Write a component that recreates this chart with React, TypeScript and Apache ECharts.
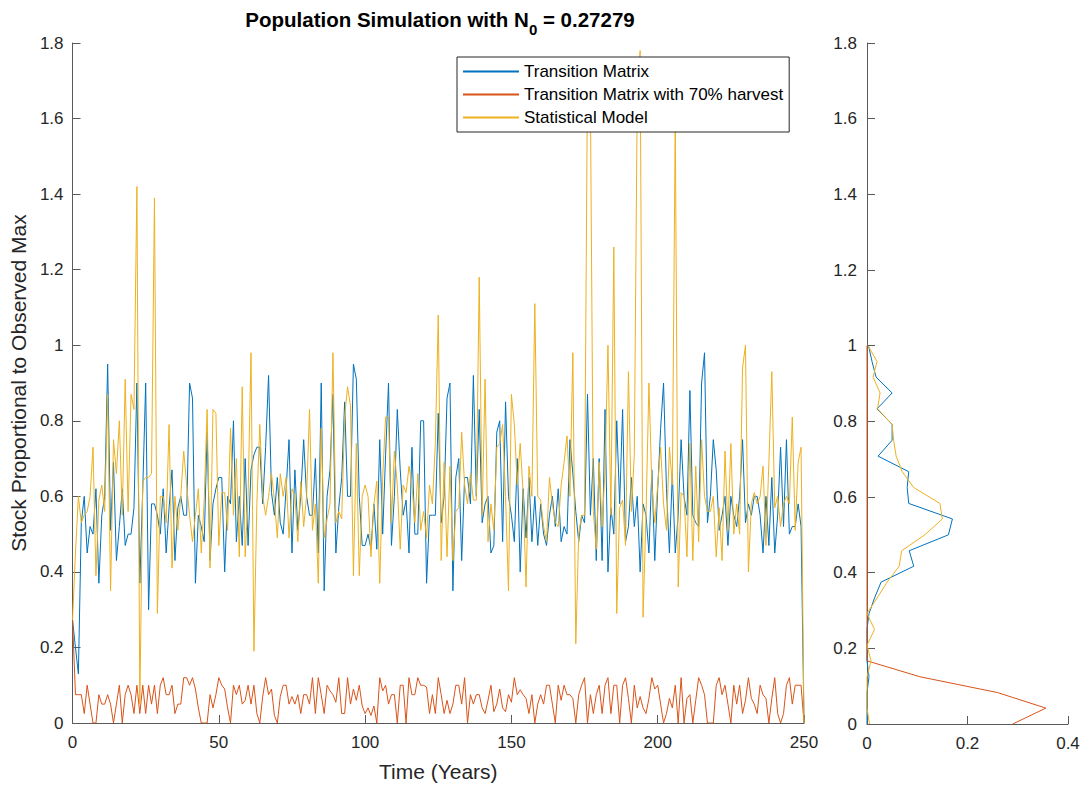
import React, { useEffect, useRef } from "react";
import * as echarts from "echarts";

const FONT = '"Liberation Sans", Arial, Helvetica, sans-serif';
const TITLE_MAIN = "Population Simulation with N";
const TITLE_SUB = "0";
const TITLE_END = " = 0.27279";
const X_NAME = "Time (Years)";
const Y_NAME = "Stock Proportional to Observed Max";
const SERIES_NAMES = ["Transition Matrix", "Transition Matrix with 70% harvest", "Statistical Model"];
const COLORS = ["#0072BD", "#D95319", "#EDB120"];

// Transition Matrix (t = 0..250)
const transitionMatrix = [
  0.273, 0.20, 0.13, 0.53, 0.60, 0.45, 0.52, 0.50, 0.62, 0.37,
  0.55, 0.60, 0.95, 0.51, 0.69, 0.43, 0.52, 0.62, 0.47, 0.50,
  0.50, 0.57, 0.90, 0.37, 0.62, 0.90, 0.30, 0.58, 0.58, 0.55,
  0.50, 0.62, 0.45, 0.57, 0.67, 0.43, 0.57, 0.60, 0.55, 0.55,
  0.90, 0.86, 0.37, 0.55, 0.52, 0.48, 0.77, 0.43, 0.58, 0.62,
  0.65, 0.65, 0.40, 0.60, 0.58, 0.80, 0.48, 0.60, 0.47, 0.70,
  0.47, 0.67, 0.71, 0.73, 0.73, 0.58, 0.73, 0.92, 0.61, 0.55,
  0.65, 0.53, 0.50, 0.62, 0.75, 0.45, 0.67, 0.51, 0.60, 0.75,
  0.60, 0.55, 0.55, 0.70, 0.45, 0.90, 0.35, 0.60, 0.67, 0.87,
  0.45, 0.57, 0.65, 0.85, 0.60, 0.60, 0.95, 0.91, 0.60, 0.47,
  0.47, 0.50, 0.46, 0.58, 0.46, 0.75, 0.50, 0.71, 0.90, 0.47,
  0.60, 0.83, 0.67, 0.55, 0.59, 0.45, 0.73, 0.50, 0.50, 0.80,
  0.80, 0.37, 0.55, 0.55, 0.55, 0.82, 0.53, 0.60, 0.86, 0.90,
  0.35, 0.65, 0.70, 0.43, 0.65, 0.65, 0.58, 0.92, 0.60, 0.83,
  0.53, 0.58, 0.60, 0.45, 0.47, 0.77, 0.80, 0.48, 0.85, 0.60,
  0.55, 0.48, 0.70, 0.40, 0.62, 0.49, 0.65, 0.48, 0.60, 0.47,
  0.58, 0.50, 0.47, 0.55, 0.60, 0.52, 0.62, 0.48, 0.52, 0.50,
  0.75, 0.66, 0.56, 0.48, 0.55, 0.53, 0.87, 0.55, 0.70, 0.43,
  0.70, 0.43, 0.83, 0.40, 0.57, 0.50, 0.80, 0.58, 0.83, 0.48,
  0.52, 0.65, 0.52, 0.60, 0.40, 0.58, 0.55, 0.45, 0.67, 0.43,
  0.62, 0.78, 0.90, 0.62, 0.45, 0.66, 0.45, 0.55, 0.75, 0.60,
  0.55, 0.88, 0.55, 0.53, 0.52, 0.90, 0.98, 0.53, 0.60, 0.75,
  0.67, 0.51, 0.55, 0.60, 0.47, 0.60, 0.55, 0.52, 0.60, 0.75,
  0.53, 0.58, 0.55, 0.60, 0.60, 0.55, 0.45, 0.60, 0.47, 0.65,
  0.45, 0.55, 0.73, 0.52, 0.75, 0.50, 0.52, 0.52, 0.58, 0.52,
  0.0,
];

// Transition Matrix with 70% harvest (t = 0..250)
const harvest70 = [
  0.273, 0.075, 0.075, 0.075, 0.025, 0.1, 0.05, 0.0, 0.0, 0.075,
  0.05, 0.05, 0.075, 0.05, 0.0, 0.05, 0.1, 0.0, 0.075, 0.1,
  0.075, 0.025, 0.1, 0.025, 0.1, 0.025, 0.1, 0.05, 0.1, 0.025,
  0.1, 0.12, 0.075, 0.075, 0.1, 0.025, 0.05, 0.05, 0.12, 0.12,
  0.1, 0.12, 0.09,
  0.04, 0.0, 0.0, 0.0, 0.075, 0.04, 0.075, 0.12, 0.1, 0.09,
  0.04, 0.0, 0.1, 0.075, 0.1, 0.05, 0.06, 0.1, 0.05, 0.1,
  0.025, 0.0, 0.07, 0.12, 0.075, 0.09, 0.02, 0.0, 0.07, 0.1,
  0.1, 0.05, 0.07, 0.05, 0.075, 0.025, 0.075, 0.075, 0.05, 0.12,
  0.025, 0.12,
  0.075, 0.025, 0.1, 0.085, 0.075, 0.055, 0.12, 0.025, 0.025, 0.12,
  0.05, 0.09, 0.06, 0.1, 0.045, 0.025, 0.04, 0.02, 0.045, 0.0,
  0.12, 0.085, 0.1, 0.05, 0.075, 0.075, 0.0, 0.1, 0.1, 0.0,
  0.12, 0.075, 0.075, 0.12, 0.1, 0.1, 0.095, 0.025, 0.075, 0.025,
  0.12, 0.075, 0.025, 0.06, 0.025, 0.05, 0.1, 0.1, 0.05, 0.12,
  0.0, 0.075, 0.05, 0.075, 0.075, 0.04, 0.025, 0.06, 0.1, 0.03,
  0.05, 0.09, 0.04, 0.03, 0.075, 0.055, 0.12, 0.075, 0.088, 0.075,
  0.065, 0.025, 0.075, 0.0, 0.05, 0.075, 0.05, 0.1, 0.1, 0.05,
  0.0, 0.1, 0.06, 0.1, 0.075,
  0.075, 0.065, 0.0, 0.075, 0.1, 0.12, 0.0, 0.075, 0.025, 0.075,
  0.1, 0.025, 0.1, 0.12, 0.025, 0.1, 0.1, 0.0, 0.1, 0.12,
  0.065, 0.0, 0.1, 0.04, 0.07, 0.04, 0.025, 0.065, 0.12, 0.09,
  0.1, 0.05, 0.0, 0.025, 0.065, 0.04, 0.1, 0.0, 0.12, 0.0,
  0.065, 0.075,
  0.0, 0.06, 0.12, 0.1, 0.075, 0.0, 0.0, 0.0, 0.1, 0.12,
  0.075, 0.1, 0.05, 0.0, 0.1, 0.05, 0.1, 0.025, 0.06, 0.12,
  0.065, 0.05, 0.025, 0.1, 0.075, 0.065, 0.0, 0.065, 0.12, 0.025,
  0.0, 0.025, 0.1, 0.12, 0.05, 0.1, 0.1, 0.1, 0.0,
];

// Statistical Model (t = 0..250)
const statisticalModel = [
  0.273, 0.45, 0.60, 0.53, 0.55, 0.56, 0.60, 0.73, 0.39, 0.59,
  0.63, 0.56, 0.87, 0.35, 0.75, 0.66, 0.80, 0.55, 0.91, 0.56,
  0.87, 0.83, 1.42, 0.05, 0.64, 0.65, 0.65, 0.66, 1.39, 0.29,
  0.60, 0.60, 0.53, 0.79, 0.41, 0.60, 0.51, 0.60, 0.72, 0.63,
  0.55, 0.48, 0.55, 0.62, 0.45, 0.59, 0.83, 0.41, 0.83, 0.82,
  0.47, 0.61, 0.61, 0.51, 0.78, 0.55, 0.70, 0.44, 0.89, 0.44,
  0.60, 0.98, 0.19, 0.58, 0.79, 0.60, 0.55, 0.60, 0.66, 0.59,
  0.49, 0.66, 0.60, 0.65, 0.49, 0.62, 0.60, 0.48, 0.64, 0.52,
  0.60, 0.83, 0.51, 0.58, 0.37, 0.78, 0.49, 0.54, 0.58, 0.98,
  0.53, 0.56, 0.54, 0.81, 0.89, 0.84, 0.39, 0.74, 0.39, 0.60,
  0.63, 0.60, 0.44, 0.58, 0.64, 0.37, 0.65, 0.81, 0.81, 0.53,
  0.72, 0.63, 0.46, 0.63, 0.61, 0.68, 0.63, 0.53, 0.66, 0.51,
  0.56, 0.49, 0.63, 0.58, 0.74, 1.08, 0.43, 0.69, 0.44, 0.68,
  0.43, 0.56, 0.57, 0.77, 0.63, 0.58, 0.66, 0.59, 0.59, 1.18,
  0.55, 0.91, 0.48, 0.58, 0.51, 0.73, 0.74, 0.79, 0.60, 0.35,
  0.87, 0.79, 0.63, 0.74, 0.61, 0.36, 0.68, 0.60, 1.11, 0.60,
  0.59, 0.52, 0.48, 0.65, 0.58, 0.53, 0.52, 0.63, 0.69, 0.76,
  0.60, 0.98, 0.21, 0.50, 0.55, 0.55, 1.72, 1.65, 0.56, 0.46,
  0.69, 0.52, 0.67, 1.00, 0.55, 1.26, 0.29, 0.57, 0.59, 0.47,
  0.93, 0.56, 0.71, 1.65, 1.78, 0.28, 0.55, 0.90, 0.63, 0.53,
  0.63, 0.73, 0.58, 0.51, 0.73, 0.63, 1.60, 0.36, 0.61, 0.60,
  0.44, 0.74, 0.43, 0.68, 0.48, 0.75, 0.60, 0.56, 0.56, 0.60,
  0.44, 0.57, 0.43, 0.72, 0.51, 0.74, 0.50, 0.58, 0.50, 0.94,
  1.00, 0.40, 0.58, 0.61, 0.58, 0.60, 0.68, 0.47, 0.69, 0.93,
  0.57, 0.60, 0.52, 0.58, 0.60, 0.58, 0.81, 0.51, 0.69, 0.73,
  0.0,
];

// Histogram (right panel): bin centres on the stock axis and probabilities
const histBins = [
  0, 0.042, 0.083, 0.125, 0.167, 0.208, 0.25, 0.292, 0.333, 0.375,
  0.417, 0.458, 0.5, 0.542, 0.583, 0.625, 0.667, 0.708, 0.75, 0.792,
  0.833, 0.875, 0.917, 0.958, 1.0,
];
const histTransition = [
  0, 0, 0, 0.004, 0, 0, 0, 0.004, 0.015, 0.028,
  0.093, 0.084, 0.162, 0.17, 0.083, 0.08, 0.083, 0.022, 0.05, 0.05,
  0.02, 0.05, 0.018, 0.01, 0.003,
];
const histHarvest = [
  0.29, 0.356, 0.26, 0.105, 0, 0, 0, 0, 0, 0,
  0, 0, 0, 0, 0, 0, 0, 0, 0, 0,
  0, 0, 0, 0, 0,
];
const histStatistical = [
  0.005, 0, 0, 0, 0.008, 0, 0.015, 0, 0.02, 0.04,
  0.064, 0.069, 0.115, 0.15, 0.145, 0.093, 0.07, 0.058, 0.053, 0.05,
  0.021, 0.026, 0.012, 0.02, 0.002,
];

const AXIS_COLOR = "#5a5a5a";
const TEXT_COLOR = "#262626";

function axisCommon(gridIndex: number, min: number, max: number, interval: number, labelMargin: number) {
  return {
    gridIndex,
    type: "value" as const,
    min,
    max,
    interval,
    axisLine: { show: true, onZero: false, lineStyle: { color: AXIS_COLOR, width: 1 } },
    axisTick: { show: true, inside: true, length: 8, lineStyle: { color: AXIS_COLOR, width: 1 } },
    axisLabel: { color: TEXT_COLOR, fontSize: 17, fontFamily: FONT, margin: labelMargin },
    splitLine: { show: false },
  };
}

export default function App() {
  const ref = useRef<HTMLDivElement>(null);

  useEffect(() => {
    if (!ref.current) return;
    const chart = echarts.init(ref.current, undefined, { renderer: "svg" });
    const lineSeries = (name: string, data: number[][], color: string, xi: number, yi: number) => ({
      type: "line",
      name,
      xAxisIndex: xi,
      yAxisIndex: yi,
      data,
      symbol: "none",
      showSymbol: false,
      lineStyle: { color, width: 1 },
      itemStyle: { color },
      emphasis: { disabled: true },
      z: 2,
    });

    chart.setOption({
      animation: false,
      backgroundColor: "#ffffff",
      title: {
        text: `{b|${TITLE_MAIN}}{s|${TITLE_SUB}}{b|${TITLE_END}}`,
        left: 440,
        top: 8,
        textAlign: "center",
        padding: 0,
        textStyle: {
          rich: {
            b: { fontSize: 20.5, fontWeight: "bold", fontFamily: FONT, color: "#000", lineHeight: 22 },
            s: { fontSize: 15, fontWeight: "bold", fontFamily: FONT, color: "#000", lineHeight: 15, padding: [20, 0, 0, 0] },
          },
        },
      },
      legend: {
        data: SERIES_NAMES,
        orient: "vertical",
        left: 457,
        top: 57,
        padding: [6, 6, 6, 5],
        itemGap: 6,
        itemWidth: 56,
        itemHeight: 14,
        backgroundColor: "#ffffff",
        borderColor: "#262626",
        borderWidth: 1,
        borderRadius: 0,
        selectedMode: false,
        itemStyle: { opacity: 0 },
        textStyle: { fontSize: 17, color: "#000", fontFamily: FONT },
      },
      grid: [
        { left: 71, right: 279, top: 43, bottom: 63 },
        { left: 867, right: 15, top: 43, bottom: 63 },
      ],
      xAxis: [
        {
          ...axisCommon(0, 0, 250, 50, 11),
          name: X_NAME,
          nameLocation: "middle",
          nameGap: 38,
          nameTextStyle: { fontSize: 21, color: TEXT_COLOR, fontFamily: FONT },
        },
        axisCommon(1, 0, 0.4, 0.2, 11),
      ],
      yAxis: [
        {
          ...axisCommon(0, 0, 1.8, 0.2, 9),
          name: Y_NAME,
          nameLocation: "middle",
          nameGap: 40,
          nameRotate: 90,
          nameTextStyle: { fontSize: 21, color: TEXT_COLOR, fontFamily: FONT },
        },
        axisCommon(1, 0, 1.8, 0.2, 10),
      ],
      series: [
        lineSeries(SERIES_NAMES[0], transitionMatrix.map((v, i) => [i, v]), COLORS[0], 0, 0),
        lineSeries(SERIES_NAMES[1], harvest70.map((v, i) => [i, v]), COLORS[1], 0, 0),
        lineSeries(SERIES_NAMES[2], statisticalModel.map((v, i) => [i, v]), COLORS[2], 0, 0),
        lineSeries("hist-transition", histTransition.map((p, i) => [p, histBins[i]]), COLORS[0], 1, 1),
        lineSeries("hist-harvest", histHarvest.map((p, i) => [p, histBins[i]]), COLORS[1], 1, 1),
        lineSeries("hist-statistical", histStatistical.map((p, i) => [p, histBins[i]]), COLORS[2], 1, 1),
      ],
    });
    return () => chart.dispose();
  }, []);

  return (
    <div
      ref={ref}
      style={{ position: "fixed", left: 0, top: 0, width: 1083, height: 787, background: "#fff" }}
    />
  );
}
